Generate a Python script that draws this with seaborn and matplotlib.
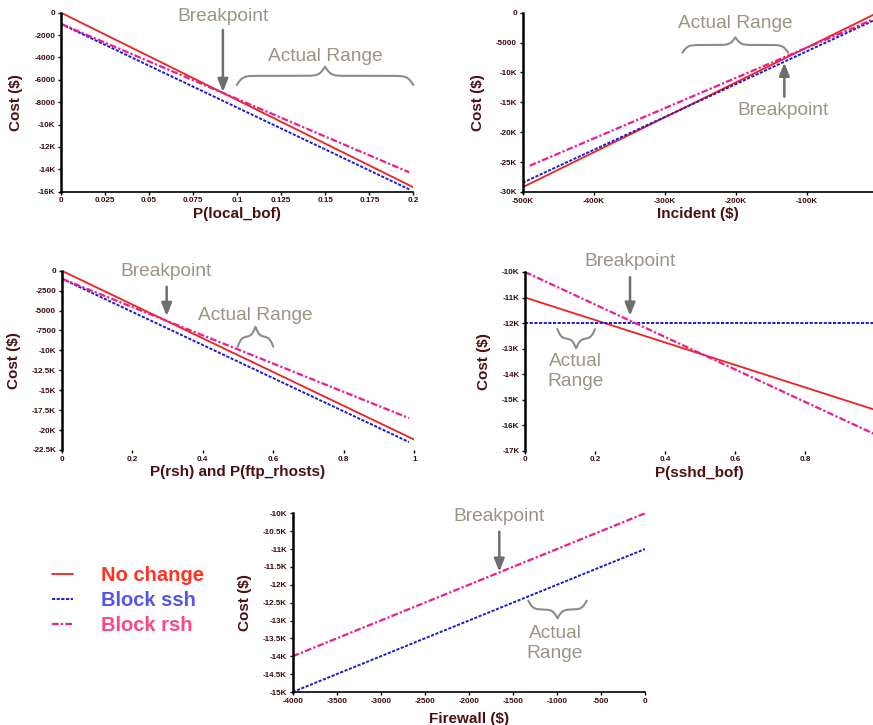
import numpy as np
import matplotlib
matplotlib.use('Agg')
import matplotlib.pyplot as plt
import seaborn as sns
from matplotlib.ticker import FuncFormatter

# ---- data ----
series_names = ['No change', 'Block ssh', 'Block rsh']

# P(local_bof)
bof_x = [0, 0.2]
bof_x_short = [0, 0.1977]
bof_no_change = [0, -15600]
bof_block_ssh = [-1000, -15790]
bof_block_rsh = [-1000, -14270]

# Incident ($)
inc_x = [-500000, 0]
inc_x_rsh = [-490000, 0]
inc_no_change = [-29200, 0]
inc_block_ssh = [-28440, -980]
inc_block_rsh = [-25600, -800]

# P(rsh) and P(ftp_rhosts)
rsh_x = [0, 1]
rsh_x_short = [0, 0.985]
rsh_no_change = [0, -21200]
rsh_block_ssh = [-1000, -21500]
rsh_block_rsh = [-1000, -18500]

# P(sshd_bof)
sshd_x = [0, 1]
sshd_no_change = [-11000, -15400]
sshd_block_ssh = [-12000, -12000]
sshd_block_rsh = [-10000, -16360]

# Firewall ($)
fw_x = [-4000, 0]
fw_block_ssh = [-15000, -11000]
fw_block_rsh = [-14000, -10000]

# ticks
bof_xticks = [0, 0.025, 0.05, 0.075, 0.1, 0.125, 0.15, 0.175, 0.2]
bof_yticks = [0, -2000, -4000, -6000, -8000, -10000, -12000, -14000, -16000]
inc_xticks = [-500000, -400000, -300000, -200000, -100000]
inc_yticks = [0, -5000, -10000, -15000, -20000, -25000, -30000]
rsh_xticks = [0, 0.2, 0.4, 0.6, 0.8, 1]
rsh_yticks = [0, -2500, -5000, -7500, -10000, -12500, -15000, -17500, -20000, -22500]
sshd_xticks = [0, 0.2, 0.4, 0.6, 0.8]
sshd_yticks = [-10000, -11000, -12000, -13000, -14000, -15000, -16000, -17000]
fw_xticks = [-4000, -3500, -3000, -2500, -2000, -1500, -1000, -500, 0]
fw_yticks = [-10000, -10500, -11000, -11500, -12000, -12500, -13000, -13500, -14000, -14500, -15000]

STYLE = {
    'No change': dict(color='#ee2020', linewidth=1.3, linestyle='-'),
    'Block ssh': dict(color='#1a1ad8', linewidth=1.4, linestyle=(0, (1.6, 0.8))),
    'Block rsh': dict(color='#ee1c8c', linewidth=1.6, linestyle=(0, (3, 1, 1, 1))),
}
LABEL_COLORS = ['#ff3322', '#5555ee', '#ff4488']
TICK_COLOR = '#3a0a0a'
AXLABEL_COLOR = '#4d1010'
NOTE_COLOR = '#9b9484'
ARROW_COLOR = '#6e6e6e'
BRACE_COLOR = '#8c8c8c'

sns.set_style('ticks')
plt.rcParams['font.family'] = ['Liberation Sans', 'DejaVu Sans']


def kfmt(v, pos=None):
    if abs(v) >= 10000:
        return f"{v / 1000:g}K"
    return f"{v:g}"


def draw_panel(ax, lines, xlim, ylim, xticks, yticks, xlabel, bottom=True, xpad=2):
    for name, x, y in lines:
        sns.lineplot(x=x, y=y, ax=ax, label=name, legend=False, **STYLE[name])
    ax.set_xlim(*xlim)
    ax.set_ylim(*ylim)
    ax.set_xticks(xticks)
    ax.set_yticks(yticks)
    ax.xaxis.set_major_formatter(FuncFormatter(kfmt))
    ax.yaxis.set_major_formatter(FuncFormatter(kfmt))
    ax.tick_params(length=2.5, width=1, colors='black', labelcolor=TICK_COLOR,
                   labelsize=5.8, pad=1.5)
    for lab in ax.get_xticklabels() + ax.get_yticklabels():
        lab.set_fontweight('bold')
    ax.set_xlabel(xlabel, fontsize=11, fontweight='bold', color=AXLABEL_COLOR, labelpad=xpad)
    ax.set_ylabel('Cost ($)', fontsize=11, fontweight='bold', color=AXLABEL_COLOR, labelpad=8)
    for s in ['top', 'right']:
        ax.spines[s].set_visible(False)
    ax.spines['left'].set_linewidth(1.8)
    ax.spines['left'].set_color('black')
    if bottom:
        ax.spines['bottom'].set_linewidth(1.2)
        ax.spines['bottom'].set_color('black')
    else:
        ax.spines['bottom'].set_visible(False)
    ax.set_facecolor('none')


def brace(ax, x0, x1, y_end, y_tip, beta):
    u = np.linspace(0, 0.5, 120)
    v = 1 / (1 + np.exp(-beta * (u - u[0]))) + 1 / (1 + np.exp(-beta * (u - u[-1])))
    v = (v - v[0]) / (v[-1] - v[0])
    uu = np.concatenate([u, 1 - u[::-1]])
    vv = np.concatenate([v, v[::-1]])
    xs = x0 + uu * (x1 - x0)
    ys = y_end + vv * (y_tip - y_end)
    ax.plot(xs, ys, color=BRACE_COLOR, lw=1.5, clip_on=False, solid_capstyle='round')


def note(ax, xy, text):
    ax.text(xy[0], xy[1], text, ha='center', va='center', fontsize=13.8,
            color=NOTE_COLOR, linespacing=1.2, clip_on=False)


def arrow(ax, tail, tip):
    ax.annotate('', xy=tip, xytext=tail, annotation_clip=False,
                arrowprops=dict(arrowstyle='-|>,head_length=0.55,head_width=0.22',
                                color=ARROW_COLOR, lw=1.8, shrinkA=0, shrinkB=0,
                                mutation_scale=14))


W, H = 873, 725
fig = plt.figure(figsize=(W / 100, H / 100), dpi=100)


def px_axes(left, top, right, bottom):
    return fig.add_axes([left / W, 1 - bottom / H, (right - left) / W, (bottom - top) / H])


# panel 1
ax1 = px_axes(61, 12.7, 413.3, 191.7)
draw_panel(ax1, [('No change', bof_x, bof_no_change),
                 ('Block ssh', bof_x_short, bof_block_ssh),
                 ('Block rsh', bof_x_short, bof_block_rsh)],
           (0, 0.2), (-16000, 0), bof_xticks, bof_yticks, 'P(local_bof)')
note(ax1, (0.0919, -295), 'Breakpoint')
arrow(ax1, (0.0919, -1546), (0.0919, -7088))
note(ax1, (0.15, -3933), 'Actual Range')
brace(ax1, 0.0998, 0.2, -6462, -4827, 60)

# panel 2
ax2 = px_axes(522.7, 12.7, 873, 192)
draw_panel(ax2, [('No change', inc_x, inc_no_change),
                 ('Block ssh', inc_x, inc_block_ssh),
                 ('Block rsh', inc_x_rsh, inc_block_rsh)],
           (-500000, -6600), (-30000, 0), inc_xticks, inc_yticks, 'Incident ($)')
note(ax2, (-201000, -1890), 'Actual Range')
brace(ax2, -275000, -126000, -6690, -4116, 40)
arrow(ax2, (-131500, -14054), (-131500, -8365))
note(ax2, (-133000, -16446), 'Breakpoint')

# panel 3
ax3 = px_axes(61.7, 270.7, 414.3, 450)
draw_panel(ax3, [('No change', rsh_x, rsh_no_change),
                 ('Block ssh', rsh_x_short, rsh_block_ssh),
                 ('Block rsh', rsh_x_short, rsh_block_rsh)],
           (0, 1), (-22500, 0), rsh_xticks, rsh_yticks, 'P(rsh) and P(ftp_rhosts)', bottom=False)
note(ax3, (0.295, -125), 'Breakpoint')
arrow(ax3, (0.2977, -2008), (0.2977, -5685))
note(ax3, (0.548, -5647), 'Actual Range')
brace(ax3, 0.499, 0.6, -9537, -7027, 18)

# panel 4
ax4 = px_axes(525, 272, 873, 450.7)
draw_panel(ax4, [('No change', sshd_x, sshd_no_change),
                 ('Block ssh', sshd_x, sshd_block_ssh),
                 ('Block rsh', sshd_x, sshd_block_rsh)],
           (0, 0.994), (-17000, -10000), sshd_xticks, sshd_yticks, 'P(sshd_bof)', bottom=False)
note(ax4, (0.3, -9608), 'Breakpoint')
arrow(ax4, (0.3, -10208), (0.3, -11712))
brace(ax4, 0.092, 0.2, -12233, -12989, 18)
note(ax4, (0.143, -13905), 'Actual\nRange')

# panel 5
ax5 = px_axes(292.7, 513.3, 645, 692)
draw_panel(ax5, [('Block ssh', fw_x, fw_block_ssh),
                 ('Block rsh', fw_x, fw_block_rsh)],
           (-4000, 0), (-15000, -10000), fw_xticks, fw_yticks, 'Firewall ($)', xpad=5)
note(ax5, (-1654, -10095), 'Breakpoint')
arrow(ax5, (-1654, -10515), (-1654, -11634))
brace(ax5, -1325, -662, -12445, -12938, 24)
note(ax5, (-1022, -13637), 'Actual\nRange')

# legend
handles, labels = ax1.get_legend_handles_labels()
leg = fig.legend(handles, labels, loc='center left', bbox_to_anchor=(52 / W, 1 - 600.5 / H),
                 frameon=False, borderpad=0, borderaxespad=0, handlelength=1.05,
                 handletextpad=1.4, labelspacing=0.3,
                 prop=dict(weight='bold', size=14.5))
for t, c in zip(leg.get_texts(), LABEL_COLORS):
    t.set_color(c)

fig.savefig('out.png', dpi=100)
